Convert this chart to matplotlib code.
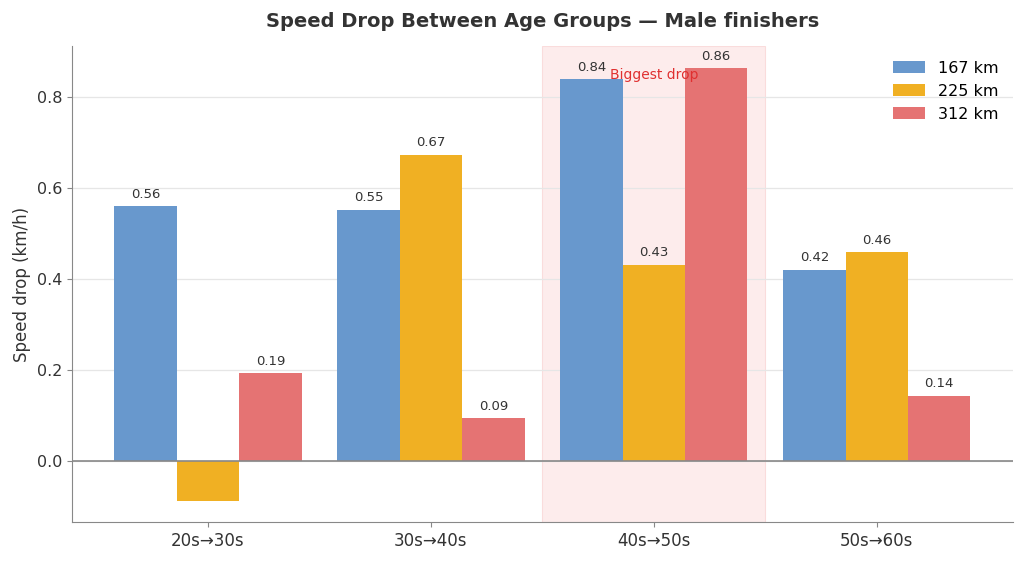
import numpy as np
import matplotlib.pyplot as plt

# speed drop between consecutive age groups, per race distance
groups = ["20s\u219230s", "30s\u219240s", "40s\u219250s", "50s\u219260s"]
km167 = [0.56, 0.552, 0.839, 0.42]
km225 = [-0.087, 0.673, 0.431, 0.459]
km312 = [0.193, 0.094, 0.864, 0.143]
series = [("167 km", km167, "#6898cd"), ("225 km", km225, "#f0b023"), ("312 km", km312, "#e57373")]

fig = plt.figure(figsize=(10.24, 5.63), dpi=100)
ax = fig.add_axes([0.0703, 0.073, 0.9187, 0.845])

x = np.arange(len(groups))
w = 0.28

# highlight the biggest drop
ax.axvspan(1.5, 2.5, facecolor="#fde8e8", edgecolor="#fad6d6", lw=0.8, alpha=0.8, zorder=0)
ax.text(2, 0.848, "Biggest drop", color="#e03030", ha="center", va="center", fontsize=10, zorder=4)

for i, (name, vals, col) in enumerate(series):
    pos = x + (i - 1) * w
    ax.bar(pos, vals, w, color=col, label=name, zorder=2)
    for px, v in zip(pos, vals):
        if v > 0:
            ax.text(px, v + 0.012, f"{v:.2f}", ha="center", va="bottom", fontsize=9.5, color="#333333", zorder=5)

ax.axhline(0, color="#888888", lw=1.2, zorder=3)
ax.set_xticks(x)
ax.set_xticklabels(groups, fontsize=12, color="#333333")
ax.set_yticks([0.0, 0.2, 0.4, 0.6, 0.8])
ax.tick_params(axis="y", labelsize=11.5, labelcolor="#333333", color="#888888")
ax.tick_params(axis="x", color="#888888")
ax.set_xlim(-0.61, 3.61)
ax.set_ylim(-0.134, 0.912)
ax.set_ylabel("Speed drop (km/h)", fontsize=12, color="#333333")
ax.set_title("Speed Drop Between Age Groups \u2014 Male finishers", fontsize=14, fontweight="bold", color="#333333", pad=14)
ax.grid(axis="y", color="#e6e6e6", lw=0.9, zorder=0)
ax.set_axisbelow(True)
for s in ["top", "right"]:
    ax.spines[s].set_visible(False)
for s in ["left", "bottom"]:
    ax.spines[s].set_color("#888888")

ax.legend(loc="upper right", frameon=False, fontsize=11.5)
plt.savefig("out.png", dpi=100)
